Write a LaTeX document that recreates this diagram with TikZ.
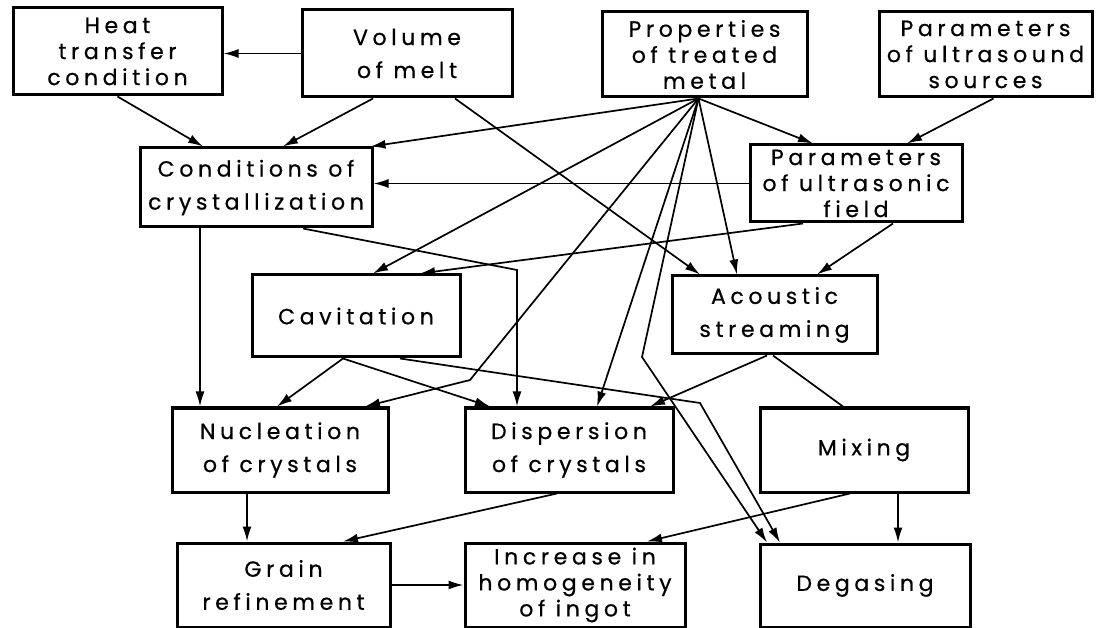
\documentclass[tikz,border=0pt]{standalone}
\usepackage{fontspec}
\newfontfamily\boxfont{Poppins}[LetterSpace=21,FakeBold=0.6]
\usetikzlibrary{positioning,calc,arrows.meta}
\tikzset{>={Latex[length=15pt,width=9pt]}}
\tikzset{
  blk/.style={draw,line width=3pt,align=center,inner sep=0pt,
    font=\boxfont\fontsize{22}{26}\selectfont},
  blkii/.style={blk,font=\boxfont\fontsize{22}{33}\selectfont},
  lnk/.style={->,line width=1.7pt},
}

\begin{document}
\begin{tikzpicture}[x=1pt,y=-1pt]
\useasboundingbox (0,0) rectangle (1101,628);
% top row
\node[blk,minimum width=209pt,minimum height=87pt] (heat) at (117.5,51.5) {Heat\\transfer\\condition};
\node[blkii,minimum width=210pt,minimum height=87pt] (volume) at (407,53.5) {Volume\\of melt};
\node[blk,minimum width=205pt,minimum height=85pt] (props) at (704.5,54.5) {Properties\\of treated\\metal};
\node[blk,minimum width=213pt,minimum height=85pt] (sources) at (985.5,54.5) {Parameters\\of ultrasound\\sources};
% second row
\node[blkii,minimum width=232pt,minimum height=79pt] (cond) at (256,187.5) {Conditions of\\crystallization};
\node[blk,minimum width=212pt,minimum height=77pt] (field) at (856,183.5) {Parameters\\of ultrasonic\\field};
% third row
\node[blk,minimum width=208pt,minimum height=82pt] (cav) at (356,316) {Cavitation};
\node[blkii,minimum width=205pt,minimum height=78pt] (acou) at (774.5,315) {Acoustic\\streaming};
% fourth row
\node[blkii,minimum width=216pt,minimum height=84pt] (nucl) at (280,450) {Nucleation\\of crystals};
\node[blkii,minimum width=208pt,minimum height=84pt] (disp) at (569,450) {Dispersion\\of crystals};
\node[blk,minimum width=208pt,minimum height=84pt] (mix) at (864,450) {Mixing};
% bottom row
\node[blkii,minimum width=213pt,minimum height=84pt] (grain) at (283.5,585) {Grain\\refinement};
\node[blk,minimum width=220pt,minimum height=84pt] (incr) at (575,585) {Increase in\\homogeneity\\of ingot};
\node[blk,minimum width=210pt,minimum height=83pt] (degas) at (865,585.5) {Degasing};

\coordinate (pf) at ($(props.south)+(-6,0)$);
\coordinate (k1) at (517,270);
\coordinate (k2) at (470,380);
\coordinate (k3) at (642,357);
\coordinate (k4) at (700,403);
\coordinate (c1) at ($(cond.south)+(-56,0)$);
\coordinate (m1) at ($(mix.south)+(34,0)$);
\coordinate (n1) at ($(nucl.south)+(-33,0)$);

\draw[lnk] (volume.west) -- (volume.west -| heat.east);
\draw[lnk] (heat.south) -- ($(cond.north)+(-53,0)$);
\draw[lnk] ($(volume.south)+(-34,0)$) -- ($(cond.north)+(27,0)$);
\draw[lnk] (pf) -- ($(cond.north east)+(-3,0)$);
\draw[lnk] (field.west) -- (field.west -| cond.east);
\draw[lnk] (pf) -- ($(field.north)+(-43,0)$);
\draw[lnk] ($(sources.south)+(8,0)$) -- ($(field.north)+(51,0)$);
\draw[lnk] (c1) -- (c1 |- nucl.north);
\draw[lnk] ($(cond.south)+(47,0)$) -- (k1) -- (k1 |- disp.north);
\draw[lnk] ($(volume.south)+(48,0)$) -- ($(acou.north)+(-74.5,0)$);
\draw[lnk] (pf) -- ($(cav.north)+(17,0)$);
\draw[lnk] ($(field.south)+(-53,0)$) -- ($(cav.north)+(64,0)$);
\draw[lnk] (pf) -- (k2) -- ($(nucl.north)+(85,0)$);
\draw[lnk] (pf) -- ($(disp.north)+(28,0)$);
\draw[lnk] (pf) -- (k3) -- ($(degas.north)+(-98,0)$);
\draw[lnk] (pf) -- ($(acou.north)+(-37.5,0)$);
\draw[lnk] ($(field.south)+(37,0)$) -- ($(acou.north)+(42.5,0)$);
\draw[lnk] ($(cav.south)+(-13,0)$) -- ($(nucl.north)+(-3,0)$);
\draw[lnk] ($(cav.south)+(-13,0)$) -- ($(disp.north)+(-79,0)$);
\draw[lnk] ($(cav.south)+(44,0)$) -- (k4) -- ($(degas.north)+(-85,0)$);
\draw[lnk] ($(acou.south)+(-7.5,0)$) -- ($(disp.north)+(81,0)$);
\draw[line width=1.7pt] ($(acou.south)+(-1.5,0)$) -- ($(mix.north)+(-21,0)$);
\draw[lnk] (m1) -- (m1 |- degas.north);
\draw[lnk] ($(mix.south)+(-14,0)$) -- ($(incr.north)+(72,0)$);
\draw[lnk] (n1) -- (n1 |- grain.north);
\draw[lnk] ($(disp.south)+(-12,0)$) -- ($(grain.north)+(59.5,0)$);
\draw[lnk] (grain.east) -- (grain.east -| incr.west);
\end{tikzpicture}
\end{document}
